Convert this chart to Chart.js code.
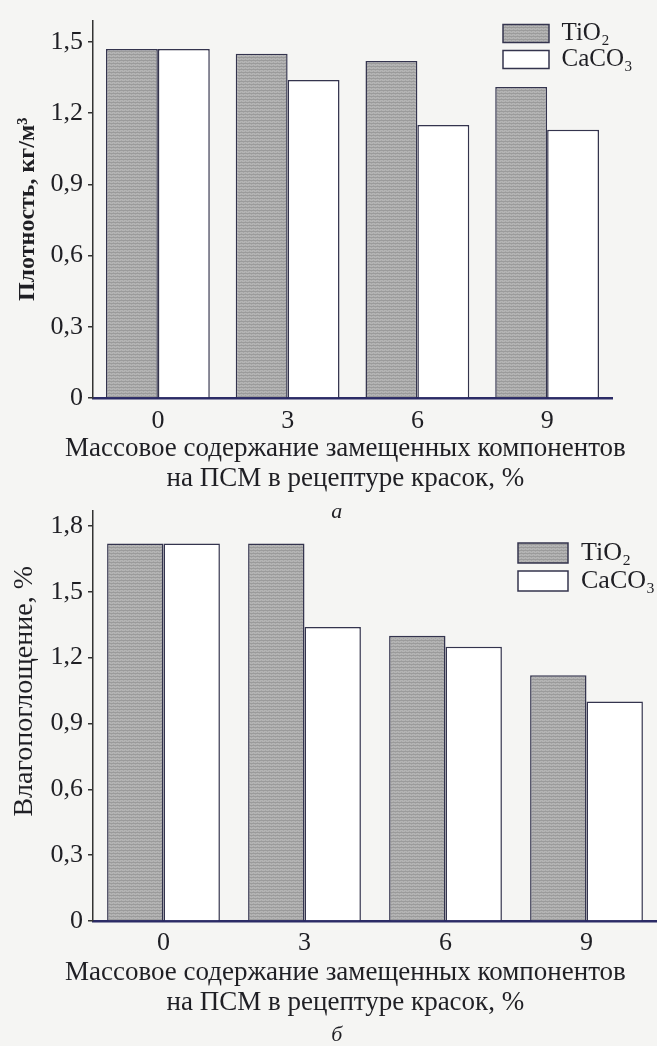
<!DOCTYPE html>
<html>
<head>
<meta charset="utf-8">
<script src="https://cdn.jsdelivr.net/npm/chart.js@4/dist/chart.umd.min.js"></script>
<style>
  html, body { margin: 0; padding: 0; background: #f5f5f3; }
  body { position: relative; width: 657px; height: 1046px; overflow: hidden; }
  canvas { position: absolute; left: 0; }
  #densityChart { top: 0; }
  #moistureChart { top: 490px; }
</style>
</head>
<body>
<canvas id="densityChart" width="657" height="525"></canvas>
<canvas id="moistureChart" width="657" height="558"></canvas>
<script>
// data
const categories = ['0', '3', '6', '9'];
const seriesLabels = ['TiO₂', 'CaCO₃'];
const densityTiO2 = [1.47, 1.45, 1.42, 1.31];
const densityCaCO3 = [1.47, 1.34, 1.15, 1.13];
const moistureTiO2 = [1.72, 1.72, 1.30, 1.12];
const moistureCaCO3 = [1.72, 1.34, 1.25, 1.00];
const densityTicks = [0, 0.3, 0.6, 0.9, 1.2, 1.5];
const moistureTicks = [0, 0.3, 0.6, 0.9, 1.2, 1.5, 1.8];
const xTitle = ['Массовое содержание замещенных компонентов', 'на ПСМ в рецептуре красок, %'];

const serif = '"Liberation Serif", "Times New Roman", serif';
const ink = '#1f1f24';
const barEdge = '#34344e';

// non-breaking spaces used to nudge centred titles off the box centre
const nb = n => '\u00a0'.repeat(n);

function makeStipple() {
    const c = document.createElement('canvas');
    c.width = 4; c.height = 3;
    const g = c.getContext('2d');
    g.fillStyle = '#b4b4b4';
    g.fillRect(0, 0, 4, 3);
    g.fillStyle = '#9b9b9b';
    g.fillRect(0, 0, 4, 1);
    g.fillStyle = '#a6a6a6';
    g.fillRect(1, 2, 1, 1);
    g.fillRect(3, 1, 1, 1);
    return g.createPattern(c, 'repeat');
}
const stipple = makeStipple();

// moves the legend (drawn in chartArea mode) to a fixed spot
const legendSpot = {
    id: 'legendSpot',
    afterLayout(chart, args, opts) {
        const lg = chart.legend;
        if (!lg) return;
        const w = lg.width, h = lg.height;
        lg.left = opts.x; lg.top = opts.y;
        lg.right = opts.x + w; lg.bottom = opts.y + h;
    }
};

function commaLabel(v) {
    return v === 0 ? '0' : v.toFixed(1).replace('.', ',');
}

function buildChart(id, cfg) {
    return new Chart(document.getElementById(id), {
        type: 'bar',
        data: {
            labels: categories,
            datasets: [{
                label: seriesLabels[0],
                data: cfg.tio2,
                backgroundColor: stipple,
                borderColor: barEdge,
                borderWidth: 1.5
            },
            {
                label: seriesLabels[1],
                data: cfg.caco3,
                backgroundColor: '#ffffff',
                borderColor: barEdge,
                borderWidth: 1.5
            }]
        },
        plugins: [legendSpot],
        options: {
            responsive: false,
            animation: false,
            devicePixelRatio: 1,
            layout: { padding: { left: 0, right: 0, top: cfg.padTop, bottom: 0 } },
            datasets: { bar: { categoryPercentage: 0.8, barPercentage: 1.0 } },
            scales: {
                x: {
                    grid: { display: false, drawTicks: false },
                    border: { display: true, color: '#2b2b66', width: 2.5 },
                    ticks: { color: ink, padding: cfg.xTickPad, font: { family: serif, size: 26 } },
                    afterFit: function(scale) { scale.height = cfg.xHeight; }
                },
                y: {
                    min: 0,
                    max: cfg.yMax,
                    grid: { drawOnChartArea: false, drawTicks: true, tickLength: 5, color: '#333', lineWidth: 1.5 },
                    border: { display: true, color: '#333', width: 1.5 },
                    afterBuildTicks: function(scale) {
                        scale.ticks = cfg.yTicks.map(v => ({ value: v }));
                    },
                    ticks: {
                        color: ink,
                        padding: 5,
                        font: { family: serif, size: 26 },
                        callback: function(value) { return commaLabel(value); }
                    },
                    title: {
                        display: true,
                        text: nb(cfg.yShift) + cfg.yTitle,
                        color: ink,
                        font: { family: serif, size: cfg.yTitleSize, weight: cfg.yTitleWeight, lineHeight: 1.2 },
                        padding: { top: cfg.yTitlePad, bottom: 0 }
                    },
                    afterFit: function(scale) { scale.width = 93; }
                },
                // empty right-hand strip so the plot ends where the scan's does
                pad: {
                    type: 'linear',
                    position: 'right',
                    display: cfg.padRight > 0,
                    grid: { display: false },
                    border: { display: false },
                    ticks: { display: false },
                    afterFit: function(scale) { scale.width = cfg.padRight; }
                }
            },
            plugins: {
                legend: {
                    position: 'chartArea',
                    align: 'start',
                    labels: {
                        boxWidth: cfg.boxW,
                        boxHeight: cfg.boxH,
                        padding: cfg.legendPad,
                        color: ink,
                        font: { family: serif, size: cfg.legendFont }
                    }
                },
                legendSpot: { x: cfg.legendX, y: cfg.legendY },
                // x-axis caption, two lines, sits right under the tick labels
                subtitle: {
                    display: true,
                    position: 'bottom',
                    text: xTitle.map(s => nb(5) + s),
                    color: ink,
                    font: { family: serif, size: 27, weight: 'normal', lineHeight: 30 / 27 },
                    padding: { top: 0, bottom: cfg.xTitlePad }
                },
                title: {
                    display: true,
                    position: 'bottom',
                    text: nb(3) + cfg.caption,
                    color: ink,
                    font: { family: serif, size: 22, style: 'italic', weight: 'normal', lineHeight: 1 },
                    padding: { top: cfg.captionTop, bottom: 2 }
                },
                tooltip: { enabled: false }
            }
        }
    });
}

buildChart('densityChart', {
    tio2: densityTiO2,
    caco3: densityCaCO3,
    yTicks: densityTicks,
    yMax: 1.59,
    yTitle: 'Плотность, кг/м³',
    yTitleSize: 24,
    yTitleWeight: 'bold',
    yTitlePad: 13,
    yShift: 0,
    padRight: 45,
    padTop: 15,
    xHeight: 36,
    xTickPad: 8,
    xTitlePad: 1,
    boxW: 46,
    boxH: 18,
    legendPad: 1,
    legendFont: 25,
    legendX: 502,
    legendY: 20,
    caption: 'а',
    captionTop: 6
});

buildChart('moistureChart', {
    tio2: moistureTiO2,
    caco3: moistureCaCO3,
    yTicks: moistureTicks,
    yMax: 1.87,
    yTitle: 'Влагопоглощение, %',
    yTitleSize: 28,
    yTitleWeight: 'normal',
    yTitlePad: 8,
    yShift: 7,
    padRight: 0,
    padTop: 17,
    xHeight: 37,
    xTickPad: 7,
    xTitlePad: 4,
    boxW: 50,
    boxH: 20,
    legendPad: 2,
    legendFont: 26,
    legendX: 516,
    legendY: 48,
    caption: 'б',
    captionTop: 2
});
</script>
</body>
</html>
